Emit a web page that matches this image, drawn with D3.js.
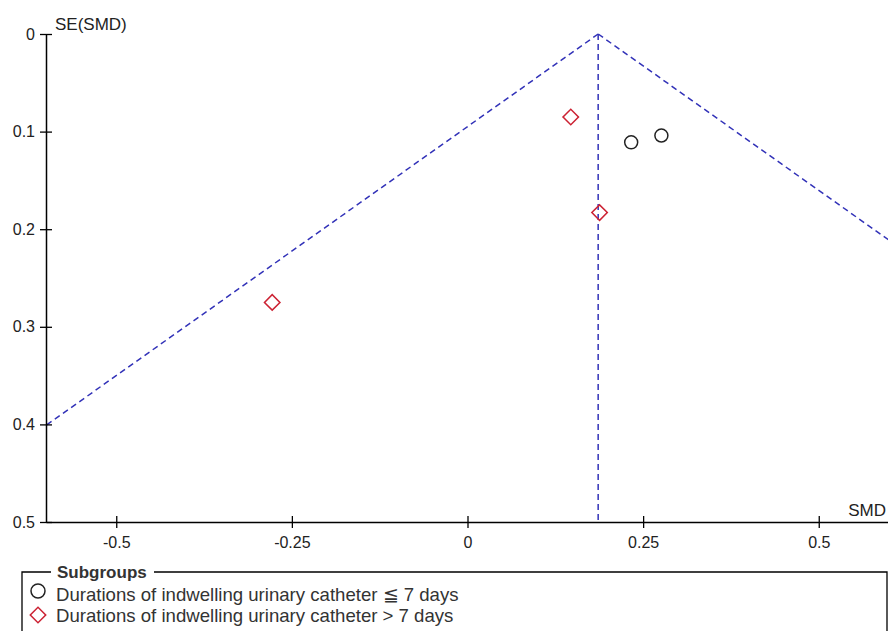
<!DOCTYPE html>
<html>
<head>
<meta charset="utf-8">
<script src="https://cdn.jsdelivr.net/npm/d3@7"></script>
<style>
  body { margin: 0; background: #fff; }
  svg { display: block; font-family: "Liberation Sans", Arial, sans-serif; }
</style>
</head>
<body>
<svg id="chart" width="888" height="631"></svg>
<script>
/* DATA */
var shortSMD = [0.233, 0.276];          // catheter <= 7 days
var shortSE  = [0.111, 0.104];
var longSMD  = [0.147, 0.188, -0.278];  // catheter > 7 days
var longSE   = [0.085, 0.183, 0.275];
var pooledSMD = 0.186;
var xTicks = [-0.5, -0.25, 0, 0.25, 0.5];
var yTicks = [0, 0.1, 0.2, 0.3, 0.4, 0.5];
var groupLabels = ["Durations of indwelling urinary catheter \u2266 7 days",
                   "Durations of indwelling urinary catheter > 7 days"];

var svg = d3.select('#chart');
var x = d3.scaleLinear().domain([-0.6, 0.6]).range([46, 889]);
var y = d3.scaleLinear().domain([0, 0.5]).range([34, 522]);
var fmt = function(d) { return String(d); };   // plain hyphen minus like the original

/* FUNNEL (clip to plot area) */
svg.append('clipPath').attr('id', 'plotclip')
  .append('rect').attr('x', 46).attr('y', 0).attr('width', 842).attr('height', 522);
var funnel = svg.append('g').attr('clip-path', 'url(#plotclip)');
var seMax = 0.5;
var blue = '#3232b8', dash = '6,4';
funnel.append('line')
  .attr('x1', x(pooledSMD)).attr('y1', y(0))
  .attr('x2', x(pooledSMD - 1.96 * seMax)).attr('y2', y(seMax))
  .attr('stroke', blue).attr('stroke-width', 1.5).attr('stroke-dasharray', dash);
funnel.append('line')
  .attr('x1', x(pooledSMD)).attr('y1', y(0))
  .attr('x2', x(pooledSMD + 1.96 * seMax)).attr('y2', y(seMax))
  .attr('stroke', blue).attr('stroke-width', 1.5).attr('stroke-dasharray', dash);
funnel.append('line')
  .attr('x1', x(pooledSMD)).attr('y1', y(0))
  .attr('x2', x(pooledSMD)).attr('y2', y(0.5))
  .attr('stroke', blue).attr('stroke-width', 1.5).attr('stroke-dasharray', dash);

/* AXES */
var yAxis = svg.append('g').attr('transform', 'translate(' + x(-0.6) + ',0)')
  .call(d3.axisLeft(y).tickValues(yTicks).tickFormat(fmt).tickSizeInner(6).tickSizeOuter(0).tickPadding(5));
var xAxis = svg.append('g').attr('transform', 'translate(0,' + y(0.5) + ')')
  .call(d3.axisBottom(x).tickValues(xTicks).tickFormat(fmt).tickSizeInner(6).tickSizeOuter(0).tickPadding(8));
[yAxis, xAxis].forEach(function(a) {
  a.select('.domain').attr('stroke', '#000').attr('stroke-width', 1.5);
  a.selectAll('.tick text').attr('font-size', 16).attr('fill', '#222')
    .attr('font-family', '"Liberation Sans", Arial, sans-serif');
});
yAxis.selectAll('.tick line').attr('x1', 6).attr('stroke-width', 1.3);
xAxis.selectAll('.tick line').attr('y1', -6).attr('y2', 6).attr('stroke-width', 1.3);
xAxis.selectAll('.tick text').attr('dy', '0.75em');

svg.append('text').attr('x', 55).attr('y', 30).attr('font-size', 17).attr('fill', '#222').text('SE(SMD)');
svg.append('text').attr('x', 886).attr('y', 516).attr('text-anchor', 'end').attr('font-size', 17).attr('fill', '#222').text('SMD');

/* POINTS */
svg.selectAll('circle.short').data(d3.range(shortSMD.length)).enter().append('circle')
  .attr('class', 'short')
  .attr('cx', function(i) { return x(shortSMD[i]); })
  .attr('cy', function(i) { return y(shortSE[i]); })
  .attr('r', 6.5).attr('fill', 'none').attr('stroke', '#222').attr('stroke-width', 1.5);

var diamond = d3.symbol().type(d3.symbolSquare).size(120);
svg.selectAll('path.long').data(d3.range(longSMD.length)).enter().append('path')
  .attr('class', 'long')
  .attr('d', diamond)
  .attr('transform', function(i) { return 'translate(' + x(longSMD[i]) + ',' + y(longSE[i]) + ') rotate(45)'; })
  .attr('fill', 'none').attr('stroke', '#cc2233').attr('stroke-width', 1.5);

/* LEGEND */
var lg = svg.append('g');
lg.append('path').attr('d', 'M22,640 V572 H51 M154,572 H887 V640')
  .attr('fill', 'none').attr('stroke', '#000').attr('stroke-width', 1.3);
lg.append('text').attr('x', 57).attr('y', 578).attr('font-size', 17).attr('font-weight', 'bold').attr('fill', '#333').text('Subgroups');
lg.append('circle').attr('cx', 38).attr('cy', 591).attr('r', 7)
  .attr('fill', 'none').attr('stroke', '#222').attr('stroke-width', 1.5);
lg.append('path').attr('d', diamond).attr('transform', 'translate(38,615) rotate(45)')
  .attr('fill', 'none').attr('stroke', '#cc2233').attr('stroke-width', 1.5);
lg.selectAll('text.lab').data(groupLabels).enter().append('text')
  .attr('class', 'lab')
  .attr('x', 56).attr('y', function(d, i) { return 601 + i * 21; })
  .attr('font-size', 18.6).attr('fill', '#333').text(function(d) { return d; });
</script>
</body>
</html>
